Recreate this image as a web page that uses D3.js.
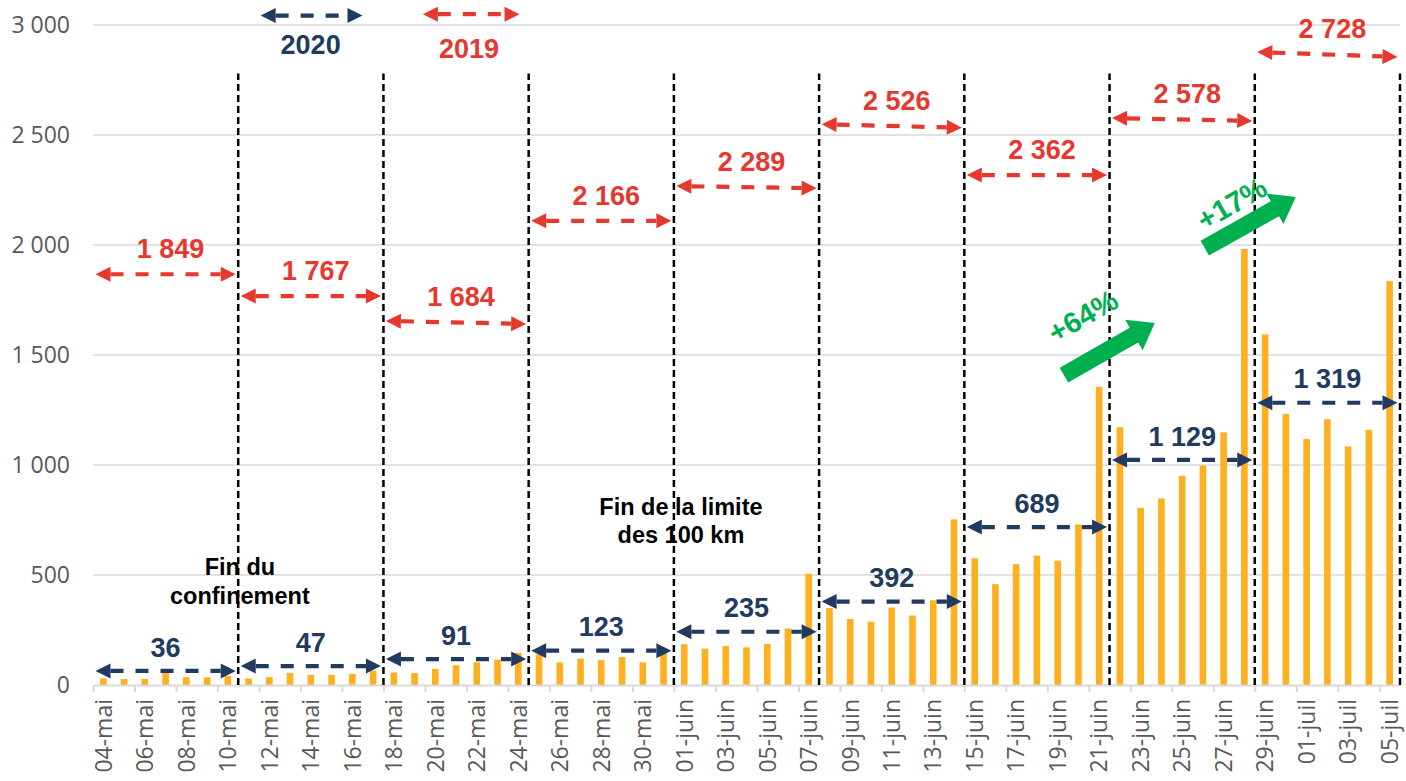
<!DOCTYPE html>
<html><head><meta charset="utf-8">
<script src="https://cdn.jsdelivr.net/npm/d3@7"></script>
<style>body{margin:0;background:#fff} svg{display:block}</style>
</head><body><svg id="chart" width="1406" height="781"></svg>
<script>
// ---------- DATA ----------
const categories = [
 "04-mai","05-mai","06-mai","07-mai","08-mai","09-mai","10-mai",
 "11-mai","12-mai","13-mai","14-mai","15-mai","16-mai","17-mai",
 "18-mai","19-mai","20-mai","21-mai","22-mai","23-mai","24-mai",
 "25-mai","26-mai","27-mai","28-mai","29-mai","30-mai","31-mai",
 "01-juin","02-juin","03-juin","04-juin","05-juin","06-juin","07-juin",
 "08-juin","09-juin","10-juin","11-juin","12-juin","13-juin","14-juin",
 "15-juin","16-juin","17-juin","18-juin","19-juin","20-juin","21-juin",
 "22-juin","23-juin","24-juin","25-juin","26-juin","27-juin","28-juin",
 "29-juin","30-juin","01-juil","02-juil","03-juil","04-juil","05-juil"];
const values2020 = [
 30,27,27,57,35,35,41,
 30,36,55,46,46,50,66,
 57,54,73,90,103,116,146,
 139,103,120,113,127,103,156,
 185,165,177,171,186,257,506,
 350,300,288,352,316,385,753,
 576,458,549,588,565,730,1355,
 1172,805,848,951,998,1148,1982,
 1594,1232,1118,1208,1085,1160,1836];
const yTicks = [0,500,1000,1500,2000,2500,3000];
const xTickLabels = categories.filter((d,i)=>i%2===0);
const weekAvg2020 = [36,47,91,123,235,392,689,1129,1319];
const weekAvg2019 = [1849,1767,1684,2166,2289,2526,2362,2578,2728];
// annotation anchor levels (data units)
const blueArrowLevel = [64,86,118,156,242,379,718,1023,1283];
const redArrowLevelL = [1867,1768,1655,2110,2268,2549,2318,2577,2877];
const redArrowLevelR = [1867,1768,1641,2110,2258,2533,2318,2564,2855];
const growthLabels = ["+64%","+17%"];

// ---------- SCALES ----------
const X0 = 93, X1 = 1400, Y0 = 685, Y1 = 25;
const x = d3.scaleBand().domain(categories).range([X0,X1]).paddingInner(0.68).paddingOuter(0.34);
const xi = d3.scaleLinear().domain([0,categories.length]).range([X0,X1]);
const y = d3.scaleLinear().domain([0,3000]).range([Y0,Y1]);
const fr = d3.formatLocale({decimal:",",thousands:" ",grouping:[3],currency:["","€"]});
const fmt = fr.format(",");

const RED = "#E5382F", BLUE = "#203A60", GREEN = "#00B050", BAR = "#FFB020";
const svg = d3.select("#chart");
const BOLD = "'Liberation Sans', Arial, sans-serif";
const REG = "'Open Sans', 'Noto Sans', sans-serif";

// gridlines
svg.append("g").selectAll("line").data(yTicks.filter(d=>d>0)).join("line")
  .attr("x1",X0).attr("x2",X1).attr("y1",d=>y(d)).attr("y2",d=>y(d))
  .attr("stroke","#d9d9d9").attr("stroke-width",1.5);

// y axis
const ya = svg.append("g").attr("transform",`translate(${X0},0)`)
  .call(d3.axisLeft(y).tickValues(yTicks).tickFormat(fmt).tickSize(0).tickPadding(23));
ya.select(".domain").remove();
ya.selectAll("text").attr("font-family",REG).attr("font-size",23).attr("fill","#595959");

// bars
svg.append("g").selectAll("rect").data(values2020).join("rect")
  .attr("x",(d,i)=>x(categories[i])).attr("width",x.bandwidth())
  .attr("y",d=>y(d)).attr("height",d=>y(0)-y(d)).attr("fill",BAR);

// x axis line + tick marks
const xt = svg.append("g").attr("transform",`translate(0,${Y0})`)
  .call(d3.axisBottom(xi).tickValues(d3.range(0,categories.length,2)).tickFormat("").tickSizeInner(7).tickSizeOuter(0));
xt.select(".domain").attr("stroke","#d9d9d9").attr("stroke-width",2);
xt.selectAll(".tick line").attr("stroke","#d9d9d9").attr("stroke-width",2);

// x labels
const xl = svg.append("g").attr("transform",`translate(0,${Y0})`)
  .call(d3.axisBottom(x).tickValues(xTickLabels).tickSize(0));
xl.select(".domain").remove();
xl.selectAll("text").attr("font-family",REG).attr("font-size",23).attr("fill","#595959")
  .attr("transform","rotate(-90)").attr("x",-14).attr("y",0).attr("dy","0.36em")
  .style("text-anchor","end");

// week separators
const seps = d3.range(7, categories.length+1, 7);
svg.append("g").selectAll("line").data(seps).join("line")
  .attr("x1",d=>xi(d)).attr("x2",d=>xi(d)).attr("y1",y(0)).attr("y2",y(2780))
  .attr("stroke","#000").attr("stroke-width",2.5).attr("stroke-dasharray","7,4");

// double arrow helper
function dblArrow(g, xa, ya_, xb, yb, color){
  const ang = Math.atan2(yb-ya_, xb-xa), c=Math.cos(ang), s=Math.sin(ang);
  const hl=15, hw=7.5;
  g.append("line").attr("x1",xa+hl*c).attr("y1",ya_+hl*s).attr("x2",xb-hl*c).attr("y2",yb-hl*s)
    .attr("stroke",color).attr("stroke-width",4.2).attr("stroke-dasharray","13,12");
  const head=(tx,ty,dir)=>{
    const bx=tx-dir*hl*c, by=ty-dir*hl*s;
    return [[tx,ty],[bx-hw*s,by+hw*c],[bx+hw*s,by-hw*c]].map(p=>p.join(",")).join(" ");
  };
  g.append("polygon").attr("points",head(xa,ya_,-1)).attr("fill",color);
  g.append("polygon").attr("points",head(xb,yb,1)).attr("fill",color);
}
const ann = svg.append("g");
weekAvg2020.forEach((v,k)=>{
  const xa = xi(7*k)+2.5, xb = xi(7*k+7)-2.5, yl = y(blueArrowLevel[k]);
  dblArrow(ann, xa, yl, xb, yl, BLUE);
  ann.append("text").attr("x",(xa+xb)/2).attr("y",yl-24).attr("dy","0.36em")
    .attr("text-anchor","middle").attr("font-family",BOLD).attr("font-weight","bold")
    .attr("font-size",27).attr("fill",BLUE).text(fmt(v));
});
weekAvg2019.forEach((v,k)=>{
  const xa = xi(7*k)+2.5, xb = xi(7*k+7)-2.5;
  const ya1 = y(redArrowLevelL[k]), yb1 = y(redArrowLevelR[k]);
  dblArrow(ann, xa, ya1, xb, yb1, RED);
  ann.append("text").attr("x",(xa+xb)/2+5).attr("y",(ya1+yb1)/2-26).attr("dy","0.36em")
    .attr("text-anchor","middle").attr("font-family",BOLD).attr("font-weight","bold")
    .attr("font-size",27).attr("fill",RED).text(fmt(v));
});

// legend
dblArrow(ann, xi(8.08), y(3043), xi(12.99), y(3043), BLUE);
ann.append("text").attr("x",xi(10.49)).attr("y",y(2911)).attr("dy","0.36em").attr("text-anchor","middle")
  .attr("font-family",BOLD).attr("font-weight","bold").attr("font-size",27).attr("fill",BLUE).text("2020");
dblArrow(ann, xi(15.9), y(3049), xi(20.56), y(3049), RED);
ann.append("text").attr("x",xi(18.12)).attr("y",y(2895)).attr("dy","0.36em").attr("text-anchor","middle")
  .attr("font-family",BOLD).attr("font-weight","bold").attr("font-size",27).attr("fill",RED).text("2019");

// green growth arrows
function bigArrow(g, xa, ya_, xb, yb){
  const L = Math.hypot(xb-xa, yb-ya_), ang = Math.atan2(yb-ya_, xb-xa)*180/Math.PI;
  const sw=8.5, hw=17.5, hl=24;
  const pts=[[0,-sw],[L-hl,-sw],[L-hl,-hw],[L,0],[L-hl,hw],[L-hl,sw],[0,sw]];
  g.append("polygon").attr("points",pts.map(p=>p.join(",")).join(" "))
    .attr("transform",`translate(${xa},${ya_}) rotate(${ang})`).attr("fill",GREEN);
}
const growth = [
  {tail:[46.8,1409], tip:[51.18,1645], txt:[47.71,1678]},
  {tail:[53.59,1986], tip:[57.98,2218], txt:[54.89,2190]}];
growth.forEach((gr,i)=>{
  bigArrow(ann, xi(gr.tail[0]), y(gr.tail[1]), xi(gr.tip[0]), y(gr.tip[1]));
  ann.append("text").attr("transform",`translate(${xi(gr.txt[0])},${y(gr.txt[1])}) rotate(-30)`)
    .attr("dy","0.36em").attr("text-anchor","middle").attr("font-family",BOLD).attr("font-weight","bold")
    .attr("font-size",29).attr("fill",GREEN).text(growthLabels[i]);
});

// event notes
function note(lines, cx, baseVal){
  const t = ann.append("text").attr("font-family",BOLD).attr("font-weight","bold").attr("font-size",23.5)
    .attr("fill","#000").attr("text-anchor","middle");
  lines.forEach((l,j)=>t.append("tspan").attr("x",xi(cx)).attr("y",y(baseVal)+j*28.5).text(l));
}
note(["Fin du","confinement"], 7.08, 500);
note(["Fin de la limite","des 100 km"], 28.34, 773);
</script></body></html>
